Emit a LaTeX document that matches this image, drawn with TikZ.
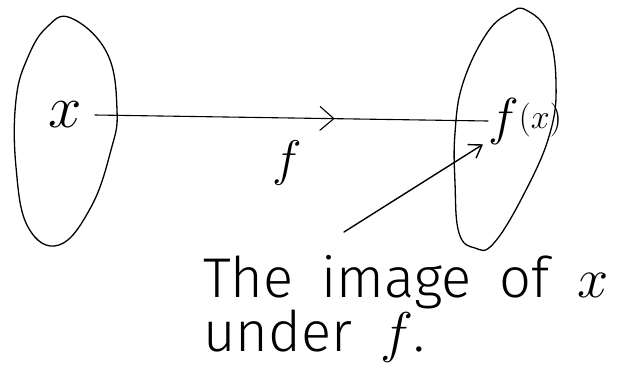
\RequirePackage{fix-cm}
\documentclass[tikz,border=0pt]{standalone}
\usepackage{fontspec}
\newfontfamily\handfont{Fira Sans Light}[WordSpace=1.8]
\usetikzlibrary{arrows.meta,decorations.markings}
\begin{document}
\begin{tikzpicture}[x=1pt,y=-1pt, line cap=round, line join=round,
  curve/.style={line width=1.3pt},
  lbl/.style={inner sep=0pt},
  hand/.style={font=\handfont\fontsize{56}{56}\selectfont, inner sep=0pt, anchor=base west}]
\useasboundingbox (0,0) rectangle (617,367);
\draw[curve] plot[smooth cycle, tension=0.7] coordinates {(71,18) (107,53) (117,110) (111,150) (91,207) (59,245) (28,227) (16,167) (16,100) (28,57) (47,27)};
\draw[curve] plot[smooth cycle, tension=0.7] coordinates {(526,10) (548,33) (556,83) (550,133) (526,190) (494,243) (475,248) (459,233) (455,183) (455,133) (463,83) (487,33) (510,13)};
\node[lbl, font=\fontsize{60}{60}\selectfont] (xl) at (65,115) {$x$};
\node[lbl, anchor=west] (fx) at (488,121) {\fontsize{52}{52}\selectfont$f$\raisebox{6pt}{\fontsize{34}{34}\selectfont$(x)$}};
\node[lbl, font=\fontsize{50}{50}\selectfont] (fl) at (287,163) {$f$};
\draw[line width=1.1pt, postaction={decorate}, decoration={markings, mark=at position 0.61 with {\arrow{Straight Barb[length=14pt,width=24pt,line width=1.1pt]}}}] ([xshift=13pt]xl.east) -- (fx.west);
\coordinate (pt) at (344,232);
\draw[line width=1.4pt, -{Straight Barb[length=12pt,width=16pt]}] (pt) -- ([xshift=-5pt]fx.south west);
\node[hand] (t1) at (203,297) {The image of $x$};
\node[hand] (t2) at (203,351) {under $f$.};
\end{tikzpicture}
\end{document}
